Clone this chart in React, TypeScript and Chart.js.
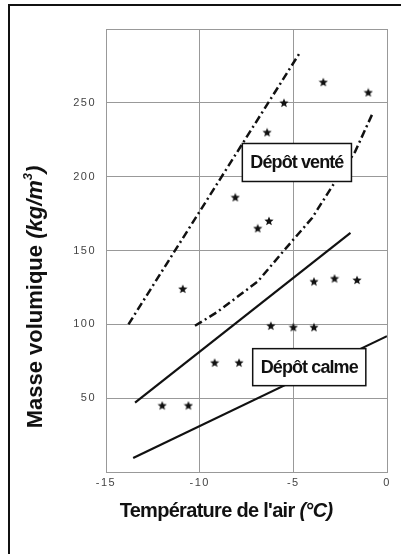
import React, { useEffect, useRef } from "react";
import { Chart, registerables } from "chart.js";

Chart.register(...registerables);

const starX = [-3.4, -1.0, -5.5, -6.4, -8.1, -6.9, -6.3, -10.9, -3.9, -2.8, -1.6, -6.2, -5.0, -3.9, -9.2, -7.9, -12.0, -10.6];
const starY = [264, 257, 250, 230, 186, 165, 170, 124, 129, 131, 130, 99, 98, 98, 74, 74, 45, 45];

const ventUpperX = [-13.8, -4.6];
const ventUpperY = [100, 285];
const ventLowerX = [-10.25, -9.1, -6.9, -5.5, -4.0, -3.0, -1.7, -0.8];
const ventLowerY = [99, 108, 129, 150, 172, 192, 217, 242];
const calmUpperX = [-13.45, -1.95];
const calmUpperY = [47, 162];
const calmLowerX = [-13.55, 0];
const calmLowerY = [9.5, 92];

const labelTexts = ["Dépôt venté", "Dépôt calme"];
const labelX = [-4.81, -4.15];
const labelY = [209.6, 71];

const xTicks = [-15, -10, -5, 0];
const yTicks = [50, 100, 150, 200, 250];

const toPts = (xs: number[], ys: number[]) => xs.map((x, i) => ({ x, y: ys[i] }));

function makeStar(): HTMLCanvasElement {
  const c = document.createElement("canvas");
  c.width = 10;
  c.height = 10;
  const g = c.getContext("2d")!;
  g.fillStyle = "#111";
  g.beginPath();
  for (let i = 0; i < 10; i++) {
    const r = i % 2 === 0 ? 4.8 : 2.1;
    const a = -Math.PI / 2 + (i * Math.PI) / 5;
    const px = 5 + r * Math.cos(a);
    const py = 5.3 + r * Math.sin(a);
    if (i === 0) g.moveTo(px, py);
    else g.lineTo(px, py);
  }
  g.closePath();
  g.fill();
  return c;
}

type Seg = { t: string; font: string; dy?: number };

function drawSegs(ctx: CanvasRenderingContext2D, segs: Seg[], cx: number, cy: number, spacing: string) {
  ctx.letterSpacing = spacing;
  let total = 0;
  const ws = segs.map((s) => {
    ctx.font = s.font;
    const w = ctx.measureText(s.t).width;
    total += w;
    return w;
  });
  let x = cx - total / 2;
  ctx.textBaseline = "middle";
  ctx.textAlign = "left";
  segs.forEach((s, i) => {
    ctx.font = s.font;
    ctx.fillText(s.t, x, cy + (s.dy || 0));
    x += ws[i];
  });
}

const FONT = "'Liberation Sans', Arial, sans-serif";

const decorPlugin = {
  id: "decor",
  beforeDraw(chart: any) {
    const ctx = chart.ctx;
    ctx.save();
    ctx.fillStyle = "#fff";
    ctx.fillRect(0, 0, chart.width, chart.height);
    ctx.restore();
    ctx.letterSpacing = "1.5px";
  },
  afterDatasetsDraw(chart: any) {
    const ctx: CanvasRenderingContext2D = chart.ctx;
    const xs = chart.scales.x;
    const ys = chart.scales.y;
    ctx.save();
    labelTexts.forEach((t, i) => {
      const cx = xs.getPixelForValue(labelX[i]);
      const cy = ys.getPixelForValue(labelY[i]);
      ctx.letterSpacing = "-0.9px";
      ctx.font = "bold 18px " + FONT;
      const w = ctx.measureText(t).width;
      const bw = w + 16;
      const bh = i === 0 ? 38 : 37;
      ctx.fillStyle = "#fff";
      ctx.fillRect(cx - bw / 2, cy - bh / 2, bw, bh);
      ctx.strokeStyle = "#111";
      ctx.lineWidth = 1.5;
      ctx.strokeRect(cx - bw / 2, cy - bh / 2, bw, bh);
      ctx.fillStyle = "#111";
      ctx.textAlign = "center";
      ctx.textBaseline = "middle";
      ctx.fillText(t, cx, cy + 1);
    });
    ctx.restore();
  },
  afterDraw(chart: any) {
    const ctx: CanvasRenderingContext2D = chart.ctx;
    ctx.save();
    ctx.strokeStyle = "#111";
    ctx.lineWidth = 2;
    ctx.beginPath();
    ctx.moveTo(9, 554);
    ctx.lineTo(9, 5);
    ctx.lineTo(401, 5);
    ctx.stroke();
    ctx.fillStyle = "#111";
    drawSegs(
      ctx,
      [
        { t: "Température de l'air ", font: "bold 20px " + FONT },
        { t: "(°C)", font: "italic bold 20px " + FONT },
      ],
      226,
      511,
      "-0.7px"
    );
    ctx.translate(36, 297);
    ctx.rotate(-Math.PI / 2);
    drawSegs(
      ctx,
      [
        { t: "Masse volumique ", font: "bold 22px " + FONT },
        { t: "(kg/m", font: "italic bold 22px " + FONT },
        { t: "3", font: "italic bold 13px " + FONT, dy: -8 },
        { t: ")", font: "italic bold 22px " + FONT },
      ],
      0,
      0,
      "0px"
    );
    ctx.restore();
  },
};

export default function App() {
  const ref = useRef<HTMLCanvasElement>(null);
  useEffect(() => {
    const star = makeStar();
    const lineDs = (xs: number[], ys: number[], dash: number[], w: number) => ({
      type: "line" as const,
      data: toPts(xs, ys),
      borderColor: "#111",
      borderWidth: w,
      borderDash: dash,
      pointRadius: 0,
      fill: false,
      showLine: true,
      tension: 0,
    });
    const chart = new Chart(ref.current!, {
      type: "scatter",
      data: {
        datasets: [
          lineDs(ventUpperX, ventUpperY, [8, 3.5, 2, 3.5], 2.5),
          lineDs(ventLowerX, ventLowerY, [8, 3.5, 2, 3.5], 2.5),
          lineDs(calmUpperX, calmUpperY, [], 2.2),
          lineDs(calmLowerX, calmLowerY, [], 2.2),
          {
            type: "scatter" as const,
            data: toPts(starX, starY),
            pointStyle: star as any,
            pointRadius: 5,
          } as any,
        ],
      },
      plugins: [decorPlugin],
      options: {
        responsive: false,
        animation: false,
        devicePixelRatio: 1,
        layout: { padding: { left: 56, top: 29, right: 14, bottom: 60 } },
        plugins: { legend: { display: false }, tooltip: { enabled: false } },
        scales: {
          x: {
            type: "linear",
            min: -15,
            max: 0,
            afterBuildTicks: (s: any) => {
              s.ticks = xTicks.map((v) => ({ value: v }));
            },
            afterFit: (s: any) => {
              s.height = 22;
            },
            ticks: {
              color: "#444",
              font: { size: 11, family: FONT },
              padding: 4,
              maxRotation: 0,
            },
            grid: { color: "#999", drawTicks: false, lineWidth: 1 },
            border: { display: true, color: "#999" },
          },
          y: {
            type: "linear",
            min: 0,
            max: 300,
            afterBuildTicks: (s: any) => {
              s.ticks = [0, ...yTicks, 300].map((v) => ({ value: v }));
            },
            afterFit: (s: any) => {
              s.width = 50;
            },
            ticks: {
              color: "#444",
              font: { size: 11, family: FONT },
              padding: 10,
              callback: (v: any) => (yTicks.includes(Number(v)) ? String(v) : ""),
            },
            grid: { color: "#999", drawTicks: false, lineWidth: 1 },
            border: { display: true, color: "#999" },
          },
        },
      } as any,
    });
    return () => chart.destroy();
  }, []);
  return (
    <div style={{ position: "absolute", left: 0, top: 0, width: 401, height: 554, background: "#fff" }}>
      <canvas ref={ref} width={401} height={554} style={{ width: 401, height: 554 }} />
    </div>
  );
}
